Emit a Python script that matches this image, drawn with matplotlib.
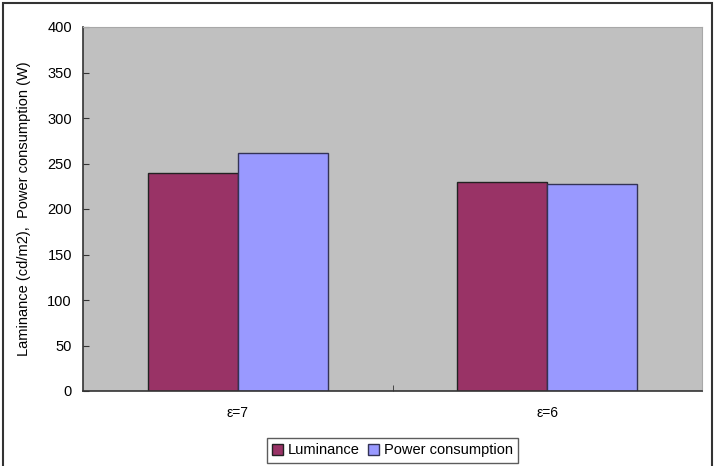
import matplotlib.pyplot as plt
import numpy as np
from matplotlib.patches import Rectangle

plt.rcParams['font.family'] = ['Liberation Sans', 'DejaVu Sans']

categories = ["ε=7", "ε=6"]
luminance = [240, 230]
power = [261, 227]
series_labels = ["Luminance", "Power consumption"]

fig = plt.figure(figsize=(7.19, 4.66), dpi=100)
ax = fig.add_axes([83 / 719, 1 - 391 / 466, 619 / 719, 364 / 466])

x = np.arange(len(categories))
w = 0.29
ax.bar(x - w / 2, luminance, w, color="#993366", edgecolor="#222222", linewidth=1, label=series_labels[0])
ax.bar(x + w / 2, power, w, color="#9999ff", edgecolor="#333355", linewidth=1, label=series_labels[1])

ax.set_facecolor("#c0c0c0")
ax.set_xlim(-0.5, 1.5)
ax.set_ylim(0, 400)
ax.set_yticks(range(0, 401, 50))
ax.set_xticks(x)
ax.set_xticklabels(categories)
ax.set_xticks([0.5], minor=True)
ax.tick_params(axis="x", which="major", length=0, pad=11, labelsize=10)
ax.tick_params(axis="x", which="minor", length=4, direction="in", color="#333333")
ax.tick_params(axis="y", length=4, direction="in", labelsize=10.5, pad=8, color="#333333")

for s in ["top", "right"]:
    ax.spines[s].set_color("#a8a8a8")
for s in ["left", "bottom"]:
    ax.spines[s].set_color("#333333")
    ax.spines[s].set_linewidth(1.2)

ax.set_ylabel("Laminance (cd/m2),  Power consumption (W)", fontsize=10.5)
ax.yaxis.set_label_coords(-52 / 619, 0.5)

leg = ax.legend(loc="upper center", bbox_to_anchor=(0.5, -0.11), ncol=2, fontsize=10.5,
                frameon=True, fancybox=False, edgecolor="#333333", handlelength=0.75,
                handleheight=0.75, handletextpad=0.3, columnspacing=0.6, borderpad=0.35)
leg.get_frame().set_linewidth(1)

fig.patches.append(Rectangle((3 / 719, -0.05), 709 / 719, 1.05 - 3 / 466, transform=fig.transFigure,
                             fill=False, edgecolor="#333333", linewidth=1.5))

fig.savefig("out.png", dpi=100)
